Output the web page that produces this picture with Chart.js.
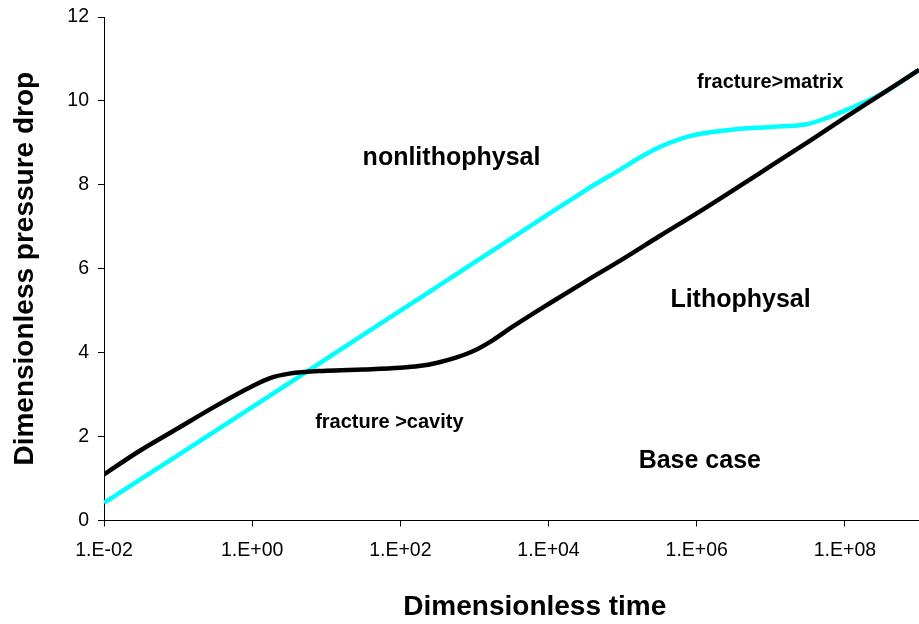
<!DOCTYPE html>
<html>
<head>
<meta charset="utf-8">
<script src="https://cdn.jsdelivr.net/npm/chart.js@4/dist/chart.umd.min.js"></script>
<style>
  html, body { margin: 0; padding: 0; background: #fff; }
  #wrap { width: 919px; height: 624px; position: relative; }
</style>
</head>
<body>
<div id="wrap"><canvas id="chart"></canvas></div>
<script>
// dimensionless time (x) and pressure drop (y)
const BASE_TIMES = [1e-2, 3.16e-2, 1e-1, 3.16e-1, 1e0, 1.78e0, 3.16e0, 1e1, 3.16e1, 1e2, 1.78e2,
  3.16e2, 5.62e2, 1e3, 1.78e3, 3.16e3, 1e4, 3.16e4, 1e5, 3.16e5, 1e6, 3.16e6, 1e7, 3.16e7,
  1e8, 3.16e8, 1e9];
const BASE_CASE = [1.1, 1.68, 2.2, 2.72, 3.2, 3.4, 3.5, 3.57, 3.6, 3.64, 3.68,
  3.76, 3.88, 4.05, 4.3, 4.6, 5.16, 5.7, 6.23, 6.78, 7.32, 7.88, 8.45, 9.02,
  9.6, 10.17, 10.74];

const NONLITHO_TIMES = [1e-2, 1e-1, 1e0, 1e1, 1e2, 1e3, 1e4, 3.16e4, 1e5, 1.78e5, 3.16e5,
  5.62e5, 1e6, 3.16e6, 1e7, 3.16e7, 5.62e7, 1e8, 3.16e8, 1e9];
const NONLITHO = [0.42, 1.56, 2.7, 3.85, 5.0, 6.15, 7.3, 7.87, 8.4, 8.67, 8.9,
  9.08, 9.2, 9.32, 9.38, 9.45, 9.59, 9.77, 10.17, 10.74];

const X_TICKS = [1e-2, 1e0, 1e2, 1e4, 1e6, 1e8];
const X_LABELS = ["1.E-02", "1.E+00", "1.E+02", "1.E+04", "1.E+06", "1.E+08"];

const NOTES = [
  { text: "nonlithophysal", x: 490, y: 8.64, size: 25 },
  { text: "fracture>matrix", x: 9.8e6, y: 10.45, size: 20 },
  { text: "Lithophysal", x: 3.9e6, y: 5.25, size: 25 },
  { text: "Base case", x: 1.1e6, y: 1.41, size: 25 },
  { text: "fracture >cavity", x: 71, y: 2.34, size: 20 },
];

const FONT = "'Liberation Sans', Arial, sans-serif";

const notesPlugin = {
  id: "notes",
  afterDatasetsDraw(chart) {
    const { ctx, scales } = chart;
    ctx.save();
    ctx.fillStyle = "#000";
    ctx.textAlign = "center";
    ctx.textBaseline = "middle";
    NOTES.forEach((n) => {
      ctx.font = `bold ${n.size}px ${FONT}`;
      ctx.fillText(n.text, scales.x.getPixelForValue(n.x), scales.y.getPixelForValue(n.y));
    });
    ctx.restore();
  },
};

function toPoints(xs, ys) {
  return xs.map((t, i) => ({ x: t, y: ys[i] }));
}

new Chart(document.getElementById("chart"), {
  type: "line",
  data: {
    datasets: [
      {
        label: "Base case",
        data: toPoints(BASE_TIMES, BASE_CASE),
        borderColor: "#000000",
        borderWidth: 4.5,
        pointRadius: 0,
        cubicInterpolationMode: "monotone",
      },
      {
        label: "nonlithophysal",
        data: toPoints(NONLITHO_TIMES, NONLITHO),
        borderColor: "#00FFFF",
        borderWidth: 4.5,
        pointRadius: 0,
        cubicInterpolationMode: "monotone",
      },
    ],
  },
  options: {
    responsive: true,
    maintainAspectRatio: false,
    animation: false,
    layout: { padding: { top: 17, right: 0, bottom: 0, left: 0 } },
    plugins: { legend: { display: false }, tooltip: { enabled: false } },
    scales: {
      x: {
        type: "logarithmic",
        min: 1e-2,
        max: 1e9,
        afterBuildTicks: (scale) => {
          scale.ticks = X_TICKS.map((v) => ({ value: v }));
        },
        afterFit: (scale) => {
          scale.height = 103.5;
          scale.paddingRight = 0;
        },
        ticks: {
          autoSkip: false,
          maxRotation: 0,
          padding: 12,
          color: "#000",
          font: { family: FONT, size: 19.5 },
          callback: (v, i) => X_LABELS[i],
        },
        grid: { drawOnChartArea: false, drawTicks: true, tickLength: 6, color: "#000" },
        border: { display: true, color: "#000", width: 1 },
        title: {
          display: true,
          text: "      Dimensionless time",
          color: "#000",
          font: { family: FONT, size: 28, weight: "bold" },
          padding: { top: 0, bottom: 0 },
        },
      },
      y: {
        min: 0,
        max: 12,
        afterFit: (scale) => {
          scale.width = 104;
          scale.paddingTop = 0;
        },
        ticks: {
          stepSize: 2,
          padding: 9,
          color: "#000",
          font: { family: FONT, size: 19.5 },
        },
        grid: { drawOnChartArea: false, drawTicks: true, tickLength: 6, color: "#000" },
        border: { display: true, color: "#000", width: 1 },
        title: {
          display: true,
          text: "Dimensionless pressure drop",
          color: "#000",
          font: { family: FONT, size: 28, weight: "bold" },
          padding: { top: 8, bottom: 0 },
        },
      },
    },
  },
  plugins: [notesPlugin],
});
</script>
</body>
</html>
